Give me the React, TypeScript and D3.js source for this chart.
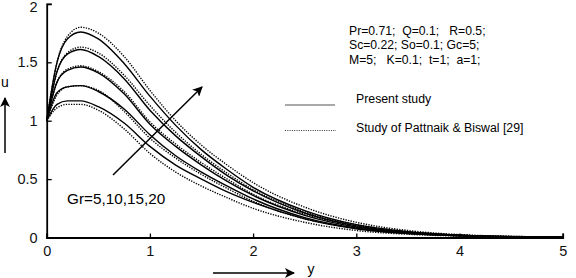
import React, { useEffect, useRef } from "react";
import { select, scaleLinear, line, curveMonotoneX, axisBottom, axisLeft } from "d3";

// distance from the plate
const yGrid = [0, 0.1, 0.2, 0.33, 0.5, 0.75, 1, 1.25, 1.5, 1.75, 2, 2.5, 3, 3.5, 4, 4.5, 5];

// velocity profiles, present study (solid)
const present = [
  [1, 1.14, 1.17, 1.17, 1.12, 0.98, 0.78, 0.62, 0.5, 0.39, 0.3, 0.16, 0.075, 0.033, 0.014, 0.005, 0.002],
  [1, 1.24, 1.29, 1.3, 1.25, 1.1, 0.88, 0.7, 0.56, 0.44, 0.33, 0.17, 0.08, 0.035, 0.015, 0.006, 0.002],
  [1, 1.33, 1.43, 1.46, 1.41, 1.23, 0.97, 0.78, 0.62, 0.48, 0.36, 0.19, 0.09, 0.04, 0.018, 0.007, 0.002],
  [1, 1.42, 1.57, 1.61, 1.55, 1.36, 1.09, 0.87, 0.69, 0.53, 0.4, 0.21, 0.1, 0.045, 0.02, 0.007, 0.003],
  [1, 1.5, 1.7, 1.76, 1.7, 1.49, 1.21, 0.96, 0.75, 0.58, 0.43, 0.23, 0.11, 0.05, 0.02, 0.008, 0.003],
];

// velocity profiles, Pattnaik & Biswal (dotted)
const pattnaik = [
  [1, 1.11, 1.14, 1.14, 1.09, 0.93, 0.72, 0.56, 0.44, 0.34, 0.25, 0.13, 0.06, 0.028, 0.012, 0.005, 0.002],
  [1, 1.22, 1.29, 1.3, 1.26, 1.08, 0.85, 0.68, 0.54, 0.42, 0.31, 0.16, 0.08, 0.035, 0.015, 0.005, 0.002],
  [1, 1.33, 1.44, 1.47, 1.42, 1.25, 0.99, 0.8, 0.64, 0.5, 0.37, 0.2, 0.1, 0.045, 0.02, 0.007, 0.002],
  [1, 1.42, 1.58, 1.63, 1.58, 1.39, 1.13, 0.9, 0.71, 0.55, 0.41, 0.22, 0.11, 0.05, 0.02, 0.008, 0.003],
  [1, 1.5, 1.72, 1.8, 1.75, 1.55, 1.26, 1.0, 0.79, 0.62, 0.47, 0.26, 0.13, 0.06, 0.025, 0.01, 0.004],
];

const xTicks = [0, 1, 2, 3, 4, 5];
const yTicks = [0, 0.5, 1, 1.5, 2];
const params = ["Pr=0.71;  Q=0.1;   R=0.5;", "Sc=0.22; So=0.1; Gc=5;", "M=5;   K=0.1;  t=1;  a=1;"];
const legendLabels = ["Present study", "Study of Pattnaik & Biswal [29]"];
const grLabel = "Gr=5,10,15,20";

const W = 576;
const H = 278;
const FONT = "'Liberation Sans', Arial, sans-serif";

const App = () => {
  const svgRef = useRef<SVGSVGElement>(null);

  useEffect(() => {
    const svg = select(svgRef.current);
    svg.selectAll("*").remove();

    const x = scaleLinear().domain([0, 5]).range([46.7, 562.7]);
    const y = scaleLinear().domain([0, 2]).range([237.5, 3.9]);

    const defs = svg.append("defs");
    defs
      .append("marker")
      .attr("id", "head")
      .attr("viewBox", "0 0 10 10")
      .attr("refX", 9)
      .attr("refY", 5)
      .attr("markerWidth", 10)
      .attr("markerHeight", 10)
      .attr("markerUnits", "userSpaceOnUse")
      .attr("orient", "auto")
      .append("path")
      .attr("d", "M0,0 L10,5 L0,10 L2.5,5 Z")
      .attr("fill", "#000");

    const path = line<number>()
      .x((d, i) => x(yGrid[i]))
      .y((d) => y(d))
      .curve(curveMonotoneX);

    svg
      .selectAll(".present")
      .data(present)
      .join("path")
      .attr("class", "present")
      .attr("d", (d) => path(d))
      .attr("fill", "none")
      .attr("stroke", "#000")
      .attr("stroke-width", 1.4);

    svg
      .selectAll(".pattnaik")
      .data(pattnaik)
      .join("path")
      .attr("class", "pattnaik")
      .attr("d", (d) => path(d))
      .attr("fill", "none")
      .attr("stroke", "#000")
      .attr("stroke-width", 1.4)
      .attr("stroke-dasharray", "1.3,1.3");

    // axes with inward ticks
    const xAxis = axisBottom(x).tickValues(xTicks).tickSize(-4).tickPadding(8).tickFormat((d) => String(d));
    const yAxis = axisLeft(y).tickValues(yTicks).tickSize(-5).tickPadding(9).tickFormat((d) => String(d));

    const gx = svg.append("g").attr("transform", `translate(0,${y(0)})`).call(xAxis);
    const gy = svg.append("g").attr("transform", `translate(${x(0)},0)`).call(yAxis);
    [gx, gy].forEach((g) => {
      g.select(".domain").attr("stroke-width", 1.8);
      g.selectAll(".tick line").attr("stroke-width", 1.3);
      g.selectAll(".tick text").style("font-family", FONT).style("font-size", "14.5px").attr("fill", "#111");
    });
    gx.selectAll(".tick text").attr("dy", "0.75em");
    // top label sits a little lower so it stays inside the frame
    gy.selectAll<SVGTextElement, number>(".tick text").attr("dy", (d) => (d === 2 ? "0.55em" : "0.32em"));

    // axis titles
    svg.append("text").attr("x", 5).attr("y", 87).attr("text-anchor", "middle").style("font-family", FONT).style("font-size", "14px").text("u");
    svg.append("line").attr("x1", 5).attr("y1", 153).attr("x2", 5).attr("y2", 98).attr("stroke", "#000").attr("stroke-width", 1.5).attr("marker-end", "url(#head)");
    svg.append("text").attr("x", 311).attr("y", 274).attr("text-anchor", "middle").style("font-family", FONT).style("font-size", "14px").text("y");
    svg.append("line").attr("x1", 213).attr("y1", 273).attr("x2", 294).attr("y2", 273).attr("stroke", "#000").attr("stroke-width", 1.5).attr("marker-end", "url(#head)");

    // Gr arrow and label
    svg.append("line").attr("x1", 113).attr("y1", 175).attr("x2", 202).attr("y2", 87).attr("stroke", "#000").attr("stroke-width", 1.5).attr("marker-end", "url(#head)");
    svg.append("text").attr("x", 67).attr("y", 204).style("font-family", FONT).style("font-size", "15.3px").text(grLabel);

    // parameter block
    svg
      .selectAll(".param")
      .data(params)
      .join("text")
      .attr("class", "param")
      .attr("x", 349)
      .attr("y", (d, i) => 35 + i * 14.3)
      .style("font-family", FONT)
      .style("font-size", "12.2px")
      .style("white-space", "pre")
      .attr("xml:space", "preserve")
      .text((d) => d);

    // legend
    const legend = svg.append("g");
    legend.append("line").attr("x1", 285).attr("x2", 335).attr("y1", 105).attr("y2", 105).attr("stroke", "#555").attr("stroke-width", 1.2);
    legend.append("line").attr("x1", 285).attr("x2", 336).attr("y1", 130.5).attr("y2", 130.5).attr("stroke", "#333").attr("stroke-width", 1.1).attr("stroke-dasharray", "1,1.3");
    legend
      .selectAll(".lab")
      .data(legendLabels)
      .join("text")
      .attr("class", "lab")
      .attr("x", 356)
      .attr("y", (d, i) => 102.5 + i * 29)
      .style("font-family", FONT)
      .style("font-size", "12.3px")
      .text((d) => d);
  }, []);

  return <svg ref={svgRef} width={W} height={H} style={{ position: "absolute", left: 0, top: 0, background: "#fff" }} />;
};

export default App;
